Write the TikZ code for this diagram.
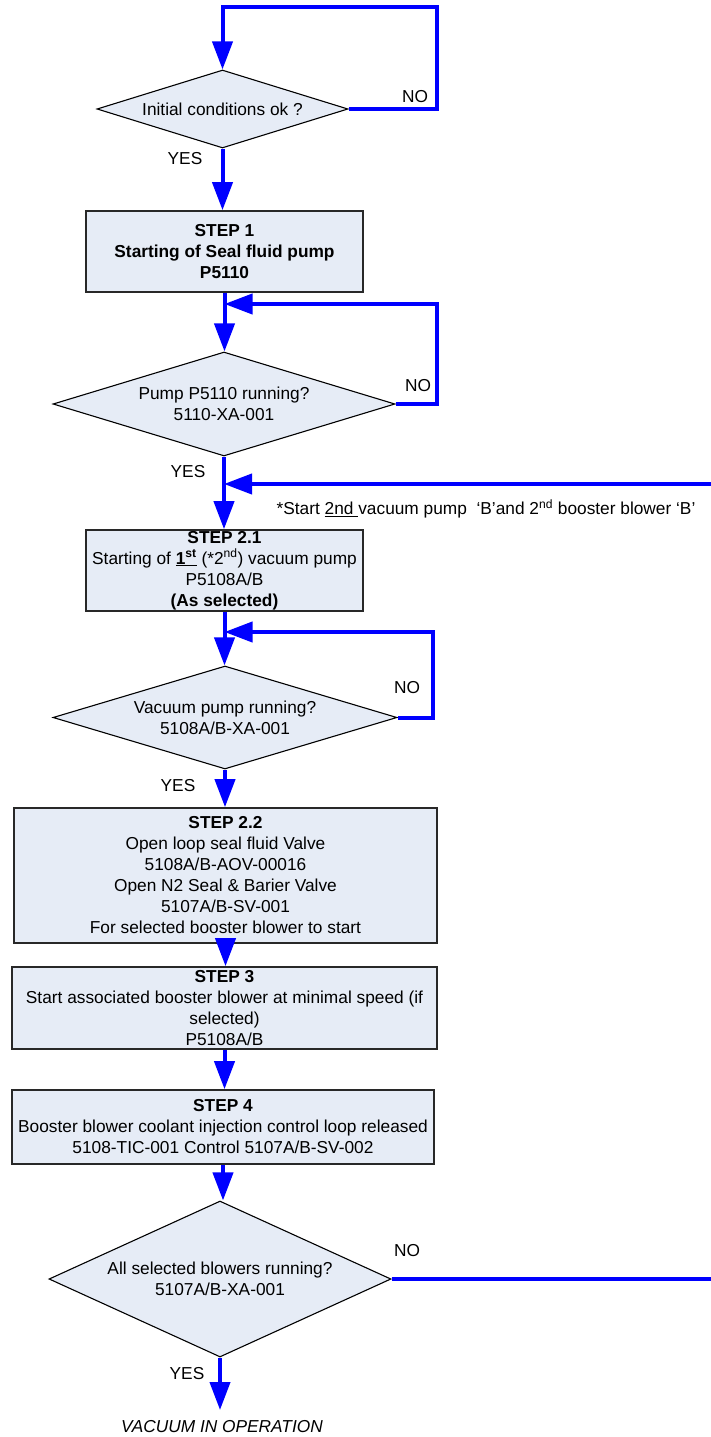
\documentclass[tikz,border=0pt]{standalone}
\usepackage{fontspec}
\setmainfont{Liberation Sans}
\usetikzlibrary{arrows.meta,shapes.geometric}
\definecolor{boxfill}{RGB}{230,236,246}
\definecolor{flowblue}{RGB}{0,0,255}
\definecolor{boxline}{RGB}{40,40,40}
\begin{document}
\begin{tikzpicture}[x=1pt,y=1pt,
  font=\fontsize{17.3}{21}\selectfont,
  stepbox/.style={draw=boxline, line width=1.6pt, fill=boxfill, inner sep=0pt, align=center},
  decision/.style={shape=diamond, draw=black, line width=1.1pt, fill=boxfill, inner sep=0pt},
  flow/.style={draw=flowblue, line width=4pt, -{Triangle[length=28pt,width=20pt]}},
  link/.style={draw=flowblue, line width=4pt},
  lbl/.style={inner sep=0pt, align=center}
]
\useasboundingbox (0,0) rectangle (711,-1437);

% decisions
\node[decision, minimum width=251pt, minimum height=78pt] (d1) at (222.5,-109) {};
\node[lbl] (d1t) at (d1) {Initial conditions ok ?};
\node[decision, minimum width=342pt, minimum height=104pt] (d2) at (224,-404) {};
\node[lbl] (d2t) at (d2) {Pump P5110 running?\\5110-XA-001};
\node[decision, minimum width=344pt, minimum height=103pt] (d3) at (225,-717.5) {};
\node[lbl] (d3t) at (d3) {Vacuum pump running?\\5108A/B-XA-001};
\node[decision, minimum width=342pt, minimum height=156pt] (d4) at (220,-1279) {};
\node[lbl] (d4t) at (d4) {All selected blowers running?\\5107A/B-XA-001};

% process steps
\node[stepbox, minimum width=277pt, minimum height=81pt] (s1) at (224.5,-251.5)
  {\textbf{STEP 1}\\\textbf{Starting of Seal fluid pump}\\\textbf{P5110}};
\node[stepbox, minimum width=277pt, minimum height=81pt] (s21) at (224.5,-570.5)
  {\textbf{STEP 2.1}\\Starting of \textbf{\underline{1\textsuperscript{st}}} (*2\textsuperscript{nd}) vacuum pump\\P5108A/B\\\textbf{(As selected)}};
\node[stepbox, minimum width=423pt, minimum height=135pt] (s22) at (225.5,-875.5)
  {\textbf{STEP 2.2}\\Open loop seal fluid Valve\\5108A/B-AOV-00016\\Open N2 Seal \& Barier Valve\\5107A/B-SV-001\\For selected booster blower to start};
\node[stepbox, minimum width=425pt, minimum height=82pt] (s3) at (224.5,-1008)
  {\textbf{STEP 3}\\Start associated booster blower at minimal speed (if\\selected)\\P5108A/B};
\node[stepbox, minimum width=422pt, minimum height=74pt] (s4) at (223,-1127)
  {\textbf{STEP 4}\\Booster blower coolant injection control loop released\\5108-TIC-001 Control 5107A/B-SV-002};

% loop corners and off-page ends
\coordinate (c1) at (437,-7);
\coordinate (c2) at (437,-304);
\coordinate (c3) at (433,-632);
\coordinate (m1) at (711,-484);
\coordinate (m2) at (711,-1279);
\coordinate (vy) at (0,-1410);

% main flow
\draw[flow] (d1.east) -| (c1) -| (d1.north);
\draw[flow] (d1.south) -- (d1.south |- s1.north);
\draw[flow] (s1.south) -- (s1.south |- d2.north);
\draw[flow] (d2.east) -| (c2) -- (c2 -| s1.south);
\draw[flow] (d2.south) -- (d2.south |- s21.north);
\draw[flow] (m1) -- (m1 -| d2.south);
\draw[flow] (s21.south) -- (s21.south |- d3.north);
\draw[flow] (d3.east) -| (c3) -- (c3 -| s21.south);
\draw[flow] (d3.south) -- (d3.south |- s22.north);
\draw[flow] (s22.south) -- (s22.south |- s3.north);
\draw[flow] (s3.south) -- (s3.south |- s4.north);
\draw[flow] (s4.south) -- (s4.south |- d4.north);
\draw[link] (d4.east) -- (m2);
\draw[flow] (d4.south) -- (d4.south |- vy);

% labels
\node[lbl] (no1) at (415,-97) {NO};
\node[lbl] (yes1) at (185,-159) {YES};
\node[lbl] (no2) at (418,-386) {NO};
\node[lbl] (yes2) at (188,-472) {YES};
\node[lbl] (no3) at (407,-688) {NO};
\node[lbl] (yes3) at (178,-786) {YES};
\node[lbl] (no4) at (407,-1251) {NO};
\node[lbl] (yes4) at (187,-1374) {YES};
\node[lbl] (note) at (486,-509)
  {*Start \underline{2nd\ }vacuum pump\ \ ‘B’and 2\textsuperscript{nd} booster blower ‘B’};
\node[lbl, font=\fontsize{17.3}{21}\selectfont\itshape] (vac) at (222,-1427) {VACUUM IN OPERATION};
\end{tikzpicture}
\end{document}
